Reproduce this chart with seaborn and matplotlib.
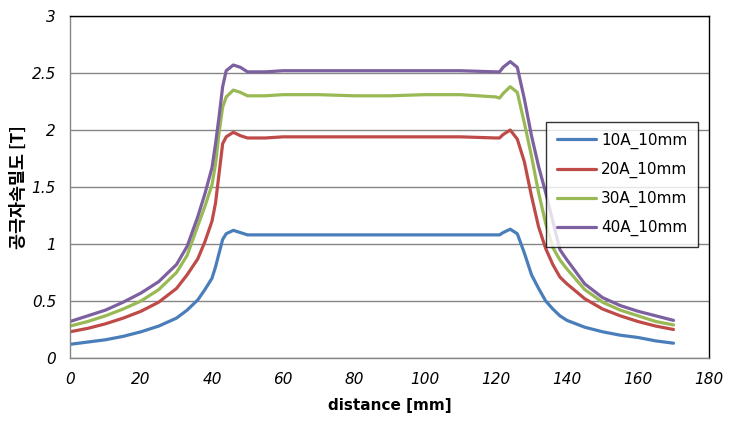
import numpy as np
import pandas as pd
import matplotlib
matplotlib.use('Agg')
import matplotlib.pyplot as plt
import seaborn as sns

# distance [mm]
distance = [0, 5, 10, 15, 20, 25, 30, 33, 36, 38, 40, 41, 42, 43, 44, 46, 48, 50,
            55, 60, 70, 80, 90, 100, 110, 120, 121, 122, 124, 126, 128, 130, 132,
            134, 136, 138, 140, 145, 150, 155, 160, 165, 170]

b_10a = [0.12, 0.14, 0.16, 0.19, 0.23, 0.28, 0.35, 0.42, 0.51, 0.60, 0.70, 0.80, 0.92, 1.04, 1.09, 1.12, 1.10, 1.08,
         1.08, 1.08, 1.08, 1.08, 1.08, 1.08, 1.08, 1.08, 1.08, 1.10, 1.13, 1.09, 0.92, 0.73, 0.61,
         0.50, 0.43, 0.37, 0.33, 0.27, 0.23, 0.20, 0.18, 0.15, 0.13]
b_20a = [0.23, 0.26, 0.30, 0.35, 0.41, 0.49, 0.61, 0.73, 0.87, 1.02, 1.20, 1.36, 1.62, 1.88, 1.94, 1.98, 1.95, 1.93,
         1.93, 1.94, 1.94, 1.94, 1.94, 1.94, 1.94, 1.93, 1.93, 1.96, 2.00, 1.92, 1.72, 1.42, 1.15,
         0.96, 0.82, 0.71, 0.65, 0.52, 0.43, 0.37, 0.32, 0.28, 0.25]
b_30a = [0.28, 0.32, 0.37, 0.43, 0.50, 0.60, 0.75, 0.90, 1.16, 1.33, 1.52, 1.70, 1.98, 2.20, 2.29, 2.35, 2.33, 2.30,
         2.30, 2.31, 2.31, 2.30, 2.30, 2.31, 2.31, 2.29, 2.28, 2.32, 2.38, 2.33, 2.06, 1.77, 1.45,
         1.18, 0.97, 0.86, 0.78, 0.60, 0.49, 0.42, 0.37, 0.32, 0.29]
b_40a = [0.32, 0.37, 0.42, 0.49, 0.57, 0.67, 0.82, 0.98, 1.24, 1.44, 1.67, 1.88, 2.12, 2.38, 2.52, 2.57, 2.55, 2.51,
         2.51, 2.52, 2.52, 2.52, 2.52, 2.52, 2.52, 2.51, 2.51, 2.55, 2.60, 2.55, 2.27, 1.95, 1.68,
         1.45, 1.20, 0.95, 0.86, 0.65, 0.53, 0.46, 0.41, 0.37, 0.33]

labels = ['10A_10mm', '20A_10mm', '30A_10mm', '40A_10mm']
colors = ['#4A7EBB', '#BE4B48', '#98B954', '#7D60A0']

df = pd.concat([
    pd.DataFrame({'distance': distance, 'B': vals, 'case': lab})
    for vals, lab in zip([b_10a, b_20a, b_30a, b_40a], labels)
])

sns.set_style('white')
plt.rcParams['text.color'] = 'black'
plt.rcParams['axes.labelcolor'] = 'black'
plt.rcParams['xtick.labelcolor'] = 'black'
plt.rcParams['ytick.labelcolor'] = 'black'

fig = plt.figure(figsize=(7.35, 4.26), dpi=100)
ax = fig.add_axes([70/735, 1 - 358/426, 639/735, 342/426])

sns.lineplot(data=df, x='distance', y='B', hue='case', palette=colors,
             linewidth=2.3, ax=ax, sort=False)

ax.set_xlim(0, 180)
ax.set_ylim(0, 3)
ax.set_xticks(np.arange(0, 181, 20))
ax.set_yticks(np.arange(0, 3.01, 0.5))
ax.set_yticklabels(['0', '0.5', '1', '1.5', '2', '2.5', '3'])
ax.yaxis.grid(True, color='#868686', linewidth=1)
ax.set_axisbelow(True)

for s in ['left', 'bottom']:
    ax.spines[s].set_color('#868686')
for s in ['top', 'right']:
    ax.spines[s].set_color('black')
for s in ax.spines.values():
    s.set_linewidth(1)

ax.tick_params(axis='both', direction='out', length=4, color='#868686',
               labelsize=11, pad=6, labelcolor='black')
for t in ax.get_xticklabels() + ax.get_yticklabels():
    t.set_fontstyle('italic')

ax.set_xlabel('distance [mm]', fontsize=11, fontweight='bold', labelpad=8, color='black')
ax.set_ylabel('공극자속밀도 [T]', fontsize=12.5, fontweight='bold', color='black',
              family=['Noto Sans CJK KR', 'DejaVu Sans'], labelpad=3)

leg = ax.legend(loc='upper left', bbox_to_anchor=(0.745, 0.69), borderaxespad=0,
                fontsize=11, frameon=True, fancybox=False, handlelength=2.6,
                labelspacing=0.85, borderpad=0.7, handletextpad=0.3)
leg.get_frame().set_edgecolor('black')
leg.get_frame().set_linewidth(1)
for ln in leg.get_lines():
    ln.set_linewidth(2.3)
for t in leg.get_texts():
    t.set_color('black')

fig.savefig('out.png', dpi=100)
